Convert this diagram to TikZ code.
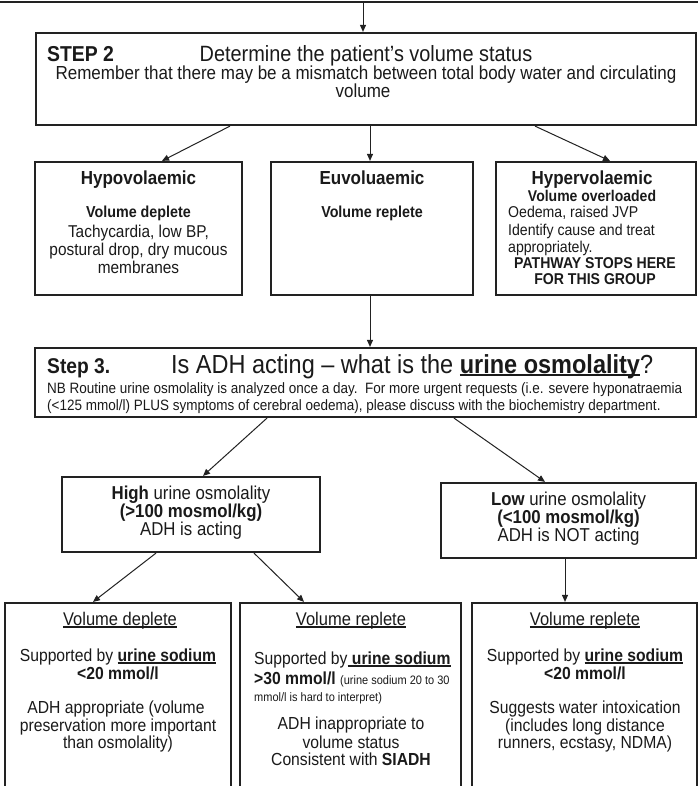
\documentclass[tikz,border=0pt]{standalone}
\usepackage{fontspec}
% a slightly narrowed sans face
\setmainfont{Liberation Sans}[FakeStretch=0.9]
\usetikzlibrary{arrows.meta,fit}
\definecolor{ink}{HTML}{1A1A1A}
\definecolor{edge}{HTML}{222222}
% size given as the width-equivalent size of the unnarrowed face
\newcommand\fsz[1]{\fontsize{\fpeval{#1*10/9}}{\fpeval{#1*10/9}}\selectfont}
% underline with a thicker rule, sized to the text
\newcommand\ulx[1]{\setbox0\hbox{#1}\rlap{\rule[-2.6pt]{\wd0}{1.3pt}}\box0}
\begin{document}
\begin{tikzpicture}[x=1pt, y=-1pt,
  box/.style={draw=edge, line width=2.2pt, inner sep=0pt},
  topedge/.style={draw=edge, line width=2.2pt},
  arr/.style={draw=edge, line width=1pt, -{Triangle[length=7pt,width=6pt]}},
  txt/.style={inner sep=0pt, text=ink, anchor=base},
  lt/.style={txt, anchor=base west}]
\clip (0,0) rectangle (698,786);
\fill[white] (0,0) rectangle (698,786);

% lower edge of the previous step
\draw[topedge] (0,2) -- (698,2);
\coordinate (prev) at (363,2);

% ---------- Step 2 ----------
\node[box, fit={(36,33)(696,125)}] (step2) {};
\node[lt, font=\bfseries\fsz{19.4}] (s2lbl) at (47,62) {STEP 2};
\node[txt, font=\fsz{19.9}] (s2head) at (366,62) {Determine the patient’s volume status};
\node[txt, font=\fsz{17}] (s2l1) at (366,80) {Remember that there may be a mismatch between total body water and circulating};
\node[txt, font=\fsz{17}] (s2l2) at (363,98) {volume};

% ---------- volume status ----------
\node[box, fit={(35,162)(242,295)}] (hypo) {};
\node[txt, font=\bfseries\fsz{17}] (hy1) at (138.5,185) {Hypovolaemic};
\node[txt, font=\bfseries\fsz{14.3}] (hy2) at (138.5,218) {Volume deplete};
\node[txt, font=\fsz{15.4}] (hy3) at (138.5,237) {Tachycardia, low BP,};
\node[txt, font=\fsz{15.4}] (hy4) at (138.5,255) {postural drop, dry mucous};
\node[txt, font=\fsz{15.4}] (hy5) at (138.5,273) {membranes};

\node[box, fit={(271,162)(473,295)}] (euvol) {};
\node[txt, font=\bfseries\fsz{17}] (eu1) at (372,185) {Euvoluaemic};
\node[txt, font=\bfseries\fsz{14.3}] (eu2) at (372,218) {Volume replete};

\node[box, fit={(496,162)(696,295)}] (hyper) {};
\node[txt, font=\bfseries\fsz{17}] (hp1) at (592,185) {Hypervolaemic};
\node[txt, font=\bfseries\fsz{14}] (hp2) at (592,202) {Volume overloaded};
\node[lt, font=\fsz{14.1}] (hp3) at (508,218) {Oedema, raised JVP};
\node[lt, font=\fsz{14.1}] (hp4) at (508,236) {Identify cause and treat};
\node[lt, font=\fsz{14.1}] (hp5) at (508,252) {appropriately.};
\node[txt, font=\bfseries\fsz{14.1}] (hp6) at (595,268) {PATHWAY STOPS HERE};
\node[txt, font=\bfseries\fsz{14.1}] (hp7) at (595,284) {FOR THIS GROUP};

% ---------- Step 3 ----------
\node[box, fit={(35,348)(696,417)}] (step3) {};
\node[lt, font=\bfseries\fsz{19.2}] (s3lbl) at (47,373) {Step 3.};
\node[lt, font=\fsz{23.5}] (s3head) at (171,373) {Is ADH acting – what is the \ulx{\bfseries urine osmolality}?};
\node[lt, font=\fsz{13.5}] (s3l1) at (47,393) {NB Routine urine osmolality is analyzed once a day.\ \ For more urgent requests (i.e. severe hyponatraemia};
\node[lt, font=\fsz{13.5}] (s3l2) at (47,410) {(<125 mmol/l) PLUS symptoms of cerebral oedema), please discuss with the biochemistry department.};

% ---------- urine osmolality ----------
\node[box, fit={(62,477)(320,552)}] (high) {};
\node[txt, font=\fsz{16.8}] (hi1) at (191,499) {\textbf{High} urine osmolality};
\node[txt, font=\bfseries\fsz{16.8}] (hi2) at (191,517) {(>100 mosmol/kg)};
\node[txt, font=\fsz{16.8}] (hi3) at (191,535) {ADH is acting};

\node[box, fit={(441,483)(696,558)}] (low) {};
\node[txt, font=\fsz{16.8}] (lo1) at (568.5,505) {\textbf{Low} urine osmolality};
\node[txt, font=\bfseries\fsz{16.8}] (lo2) at (568.5,523) {(<100 mosmol/kg)};
\node[txt, font=\fsz{16.8}] (lo3) at (568.5,541) {ADH is NOT acting};

% ---------- urine sodium ----------
\node[box, fit={(5,603)(231,800)}] (botL) {};
\node[txt, font=\fsz{16.5}] (bl1) at (120,625) {\ulx{Volume deplete}};
\node[txt, font=\fsz{15.7}] (bl2) at (118,661) {Supported by \ulx{\bfseries urine sodium}};
\node[txt, font=\bfseries\fsz{15.7}] (bl3) at (118,679) {<20 mmol/l};
\node[txt, font=\fsz{15.7}] (bl4) at (116,713) {ADH appropriate (volume};
\node[txt, font=\fsz{15.7}] (bl5) at (118,731) {preservation more important};
\node[txt, font=\fsz{15.7}] (bl6) at (118,748) {than osmolality)};

\node[box, fit={(240,603)(461,800)}] (botM) {};
\node[txt, font=\fsz{16.5}] (bm1) at (351,625) {\ulx{Volume replete}};
\node[lt, font=\fsz{15.7}] (bm2) at (254,664) {Supported by\ulx{ \bfseries urine sodium}};
\node[lt, font=\fsz{15.7}] (bm3) at (254,684) {\textbf{>30 mmol/l} {\fsz{11}(urine sodium 20 to 30}};
\node[lt, font=\fsz{11}] (bm4) at (254,701) {mmol/l is hard to interpret)};
\node[txt, font=\fsz{15.7}] (bm5) at (351,729) {ADH inappropriate to};
\node[txt, font=\fsz{15.7}] (bm6) at (351,748) {volume status};
\node[txt, font=\fsz{15.7}] (bm7) at (351,765) {Consistent with \textbf{SIADH}};

\node[box, fit={(472,603)(697,800)}] (botR) {};
\node[txt, font=\fsz{16.5}] (br1) at (585,625) {\ulx{Volume replete}};
\node[txt, font=\fsz{15.7}] (br2) at (585,661) {Supported by \ulx{\bfseries urine sodium}};
\node[txt, font=\bfseries\fsz{15.7}] (br3) at (585,679) {<20 mmol/l};
\node[txt, font=\fsz{15.7}] (br4) at (585,713) {Suggests water intoxication};
\node[txt, font=\fsz{15.7}] (br5) at (585,731) {(includes long distance};
\node[txt, font=\fsz{15.7}] (br6) at (585,748) {runners, ecstasy, NDMA)};

% ---------- connectors ----------
\draw[arr] (prev) -- ([xshift=-3pt]step2.north);
\draw[arr] ([xshift=-136pt]step2.south) -- ([xshift=23.5pt]hypo.north);
\draw[arr] ([xshift=4pt]step2.south) -- ([xshift=-2pt]euvol.north);
\draw[arr] ([xshift=169pt]step2.south) -- ([xshift=14pt]hyper.north);
\draw[arr] ([xshift=-2pt]euvol.south) -- ([xshift=4.5pt]step3.north);
\draw[arr] ([xshift=-98.5pt]step3.south) -- ([xshift=12pt]high.north);
\draw[arr] ([xshift=88.5pt]step3.south) -- ([xshift=-23.5pt]low.north);
\draw[arr] ([xshift=-35pt]high.south) -- ([xshift=-25pt]botL.north);
\draw[arr] ([xshift=63pt]high.south) -- ([xshift=-46.5pt]botM.north);
\draw[arr] ([xshift=-3.5pt]low.south) -- ([xshift=-19.5pt]botR.north);
\end{tikzpicture}
\end{document}
